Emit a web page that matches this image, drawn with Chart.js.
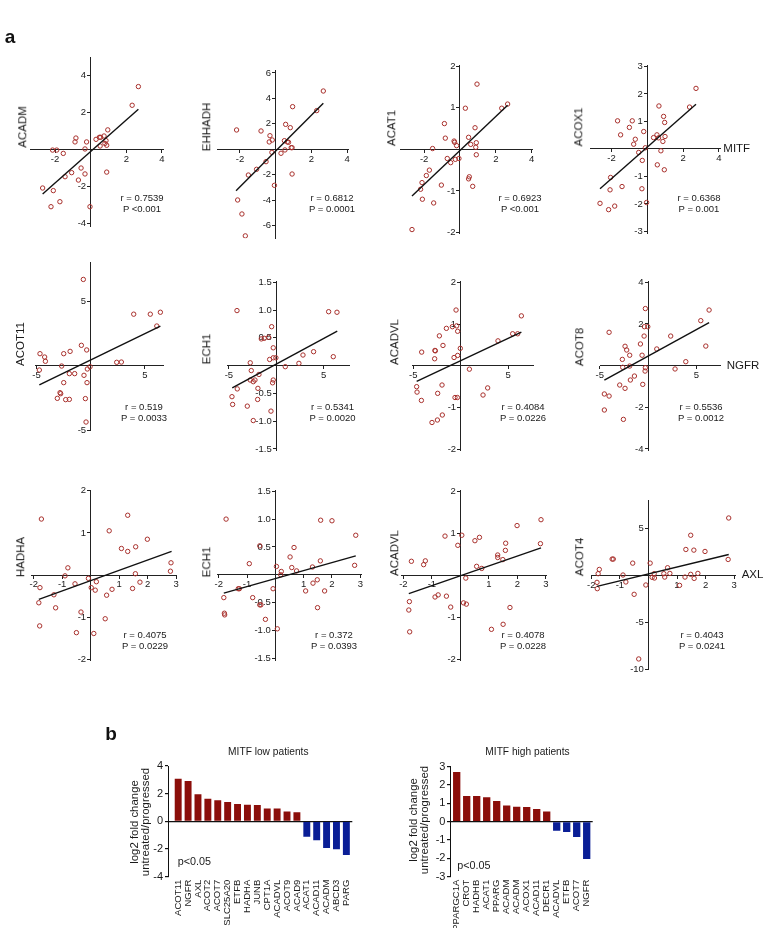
<!DOCTYPE html>
<html>
<head>
<meta charset="utf-8">
<script src="https://cdn.jsdelivr.net/npm/chart.js@4.4.1/dist/chart.umd.min.js"></script>
<style>
body { margin: 0; background: #fff; }
#fig { position: relative; width: 772px; height: 928px; overflow: hidden; font-family: "Liberation Sans", Arial, sans-serif; color: #1a1a1a; }
#fig canvas { position: absolute; }
.t { position: absolute; white-space: nowrap; line-height: 1; }
</style>
</head>
<body>
<div id="fig"></div>
<script>
const FONT = '"Liberation Sans", Arial, sans-serif';
const PT_COLOR = '#a8302c';
const RED = '#8b0e0a';
const BLUE = '#0a1e96';
// y labels of an axis placed at x = 0 are drawn flush with the line, so push them off it
const GAP = ' \u2009';

// ---- panel a: scatter data (x = MITF / NGFR / AXL, y = gene) ----
const acadmX = [2.68, 2.33, 0.96, -0.83, -0.88, -0.23, -0.32, 0.30, 0.49, 0.56, 0.75, 0.86, 0.90, 0.53, 0.80, -2.14, -1.91, -1.54, -0.54, -0.32, -1.07, -1.44, -0.69, -2.70, -2.10, -1.73, -2.23, -0.04, 0.90];
const acadmY = [3.39, 2.38, 1.05, 0.61, 0.40, 0.40, 0.02, 0.54, 0.65, 0.65, 0.72, 0.47, 0.22, 0.18, 0.32, -0.04, -0.04, -0.22, -1.01, -1.33, -1.26, -1.48, -1.66, -2.09, -2.23, -2.83, -3.10, -3.10, -1.23];
const acadmFitX = [-2.70, 2.68];
const acadmFitY = [-2.41, 2.16];

const ehhadhX = [2.67, 2.30, 0.95, 0.56, 0.82, -2.19, -0.82, -0.32, -0.19, -0.36, 0.49, 0.65, 0.72, 0.92, 0.87, -0.21, 0.30, 0.52, -0.54, -1.07, -1.53, 0.92, -0.07, -2.13, -1.89, -1.70];
const ehhadhY = [4.58, 3.04, 3.35, 1.96, 1.70, 1.52, 1.44, 1.07, 0.73, 0.58, 0.68, 0.58, 0.55, 0.13, 0.13, -0.24, -0.31, -0.05, -0.97, -1.57, -2.02, -1.94, -2.83, -3.98, -5.08, -6.80];
const ehhadhFitX = [-2.22, 2.67];
const ehhadhFitY = [-3.25, 3.61];

const acat1X = [0.95, 0.30, 2.33, 2.66, -0.87, 0.84, -0.82, -0.33, -0.30, 0.48, 0.91, 0.60, -0.19, 0.88, -1.53, 0.91, -0.71, -0.52, -0.26, -0.06, -1.71, -1.88, 0.52, 0.48, 0.71, -1.04, -2.12, -2.20, -2.10, -1.47, -2.68];
const acat1Y = [1.57, 0.99, 0.99, 1.09, 0.62, 0.52, 0.27, 0.20, 0.17, 0.29, 0.16, 0.12, 0.09, 0.05, 0.02, -0.13, -0.22, -0.32, -0.24, -0.22, -0.50, -0.63, -0.66, -0.71, -0.89, -0.86, -0.80, -0.96, -1.20, -1.29, -1.93];
const acat1FitX = [-2.68, 2.66];
const acat1FitY = [-1.12, 1.06];

const acox1X = [2.72, 2.36, 0.65, 0.91, 0.97, -1.66, -0.84, -1.00, -1.49, -0.20, -0.67, -0.76, 0.54, 0.35, 0.63, 0.99, 0.87, -0.11, -0.48, 0.76, -0.28, 0.56, 0.95, -2.05, -1.41, -2.08, -0.30, -0.04, -2.64, -1.82, -2.16];
const acox1Y = [2.20, 1.52, 1.56, 1.18, 0.96, 1.02, 1.02, 0.78, 0.51, 0.63, 0.35, 0.17, 0.51, 0.41, 0.40, 0.45, 0.27, 0.04, -0.13, -0.07, -0.42, -0.58, -0.76, -1.04, -1.37, -1.49, -1.45, -1.95, -1.98, -2.08, -2.21];
const acox1FitX = [-2.64, 2.72];
const acox1FitY = [-1.45, 1.62];

const acot11X = [-0.68, 3.97, 5.50, 6.43, 6.10, -0.86, -0.37, -1.90, -2.49, -4.68, -4.25, -4.18, 2.40, 2.83, -2.68, -0.06, -4.74, -0.31, -1.97, -1.48, -0.62, -2.49, -0.34, -2.83, -2.77, -3.08, -2.31, -1.97, -0.49, -0.43];
const acot11Y = [6.70, 4.00, 4.00, 4.15, 3.08, 1.58, 1.22, 1.11, 0.93, 0.93, 0.67, 0.34, 0.26, 0.28, -0.03, -0.08, -0.34, -0.26, -0.62, -0.62, -0.75, -1.32, -1.32, -2.10, -2.18, -2.54, -2.64, -2.62, -2.56, -4.38];
const acot11FitX = [-4.74, 6.43];
const acot11FitY = [-1.50, 3.08];

const ech1NgfrX = [-4.15, 5.53, 6.41, -0.49, -1.58, -1.27, -0.81, -0.32, 3.94, 2.82, 6.02, -0.70, -0.32, -0.04, 2.39, 0.95, -2.75, -2.64, -1.83, -2.75, -2.25, -2.43, -0.32, -0.39, -4.12, -1.94, -4.68, -1.97, -4.61, -3.06, -0.56, -2.43];
const ech1NgfrY = [0.99, 0.97, 0.96, 0.70, 0.48, 0.49, 0.51, 0.32, 0.25, 0.19, 0.16, 0.11, 0.14, 0.14, 0.04, -0.02, 0.05, -0.09, -0.16, -0.26, -0.26, -0.29, -0.26, -0.31, -0.42, -0.41, -0.56, -0.61, -0.70, -0.73, -0.82, -0.99];
const ech1NgfrFitX = [-4.65, 6.44];
const ech1NgfrFitY = [-0.40, 0.62];

const acadvlNgfrX = [-0.49, 6.41, -0.88, -0.42, -0.32, -1.51, -2.25, 5.49, 6.02, 3.94, -1.87, -2.68, -2.72, -2.75, -4.12, -0.04, -0.32, -0.70, 0.92, -1.97, 2.85, -4.65, -4.61, -2.43, 2.36, -0.60, -0.35, -4.15, -1.94, -2.46, -3.03];
const acadvlNgfrY = [1.34, 1.20, 0.94, 0.96, 0.83, 0.90, 0.72, 0.77, 0.77, 0.60, 0.49, 0.36, 0.37, 0.17, 0.33, 0.42, 0.25, 0.20, -0.08, -0.46, -0.53, -0.50, -0.63, -0.66, -0.70, -0.76, -0.76, -0.83, -1.18, -1.30, -1.36];
const acadvlNgfrFitX = [-4.65, 6.41];
const acadvlNgfrFitY = [-0.37, 0.81];

const acot8X = [-0.28, 6.31, 5.45, -0.38, -0.03, -0.41, 2.34, -4.03, -0.79, -2.38, -2.21, 0.90, 5.97, -1.90, -0.62, -2.66, 3.90, -2.62, -1.90, -0.28, -0.31, 2.79, -1.41, -1.83, -2.93, -2.38, -0.55, -4.52, -4.03, -4.52, -2.55];
const acot8Y = [2.74, 2.67, 2.16, 1.87, 1.87, 1.42, 1.42, 1.60, 1.04, 0.93, 0.75, 0.80, 0.94, 0.50, 0.50, 0.30, 0.19, -0.08, -0.02, -0.10, -0.26, -0.16, -0.50, -0.69, -0.93, -1.09, -0.90, -1.36, -1.46, -2.13, -2.58];
const acot8FitX = [-4.52, 6.31];
const acot8FitY = [-0.69, 2.06];

const hadhaX = [-1.73, 1.30, 0.65, 1.99, 1.08, 1.30, 1.58, -0.80, 2.82, 2.80, -0.90, -0.08, 1.57, -0.55, 0.20, 0.02, 0.16, 1.73, 0.75, 1.47, -1.78, -1.29, 0.56, -1.82, -1.23, -0.34, 0.51, -1.79, -0.50, 0.11];
const hadhaY = [1.33, 1.42, 1.05, 0.85, 0.63, 0.56, 0.67, 0.17, 0.29, 0.09, -0.02, -0.08, 0.03, -0.21, -0.16, -0.30, -0.36, -0.17, -0.34, -0.32, -0.30, -0.47, -0.48, -0.66, -0.78, -0.88, -1.04, -1.21, -1.37, -1.39];
const hadhaFitX = [-1.82, 2.84];
const hadhaFitY = [-0.58, 0.56];

const ech1AxlX = [-1.74, 1.60, 2.00, 2.84, -0.55, 0.66, 0.52, -0.92, 1.59, 0.04, 0.58, 1.31, 2.80, 0.21, 0.75, 0.19, -1.27, -1.31, -0.08, 1.07, 1.74, 1.33, 1.48, -1.82, -0.80, -0.51, -0.55, 1.49, -1.80, -1.79, -0.35, 0.07];
const ech1AxlY = [1.00, 0.98, 0.97, 0.71, 0.52, 0.49, 0.32, 0.20, 0.25, 0.15, 0.13, 0.14, 0.17, 0.06, 0.07, 0.00, -0.25, -0.25, -0.25, -0.29, -0.29, -0.15, -0.09, -0.41, -0.41, -0.54, -0.54, -0.59, -0.69, -0.72, -0.80, -0.97];
const ech1AxlFitX = [-1.82, 2.84];
const ech1AxlFitY = [-0.33, 0.34];

const acadvlAxlX = [2.83, 1.99, -0.54, 0.05, 0.67, 0.51, -0.09, 1.59, 2.81, 1.58, 1.31, 1.31, 1.49, -1.72, -1.23, -1.29, 0.57, 0.75, 0.19, -0.89, -0.78, -0.49, -1.79, -0.34, -1.81, 0.11, 0.21, 1.74, -1.78, 1.09, 1.50];
const acadvlAxlY = [1.32, 1.18, 0.93, 0.95, 0.90, 0.82, 0.71, 0.76, 0.75, 0.59, 0.48, 0.42, 0.37, 0.33, 0.34, 0.25, 0.21, 0.16, -0.07, -0.52, -0.47, -0.50, -0.63, -0.76, -0.83, -0.66, -0.69, -0.77, -1.35, -1.29, -1.17];
const acadvlAxlFitX = [-1.81, 2.83];
const acadvlAxlFitY = [-0.44, 0.65];

const acot4X = [2.81, 1.48, 1.31, 1.59, 1.98, 2.79, -1.27, -1.23, -0.55, 0.06, 0.67, -1.72, -1.76, -0.89, 0.54, 0.75, 0.20, 1.48, 1.73, 1.28, 1.60, 0.13, 0.21, 0.57, -1.80, -0.79, 1.09, -0.09, -1.79, -0.50, -0.34];
const acot4Y = [6.09, 4.26, 2.75, 2.68, 2.54, 1.69, 1.73, 1.73, 1.30, 1.30, 0.81, 0.63, 0.18, 0.04, 0.18, 0.21, 0.18, 0.11, 0.21, -0.18, -0.32, -0.21, -0.28, -0.18, -0.74, -0.70, -1.06, -1.02, -1.41, -2.01, -8.87];
const acot4FitX = [-1.80, 2.81];
const acot4FitY = [-1.16, 2.22];

const geneNames = ['ACADM', 'EHHADH', 'ACAT1', 'ACOX1', 'ACOT11', 'ECH1', 'ACADVL', 'ACOT8', 'HADHA', 'ECH1', 'ACADVL', 'ACOT4'];
const rText = ['r = 0.7539', 'r = 0.6812', 'r = 0.6923', 'r = 0.6368', 'r = 0.519', 'r = 0.5341', 'r = 0.4084', 'r = 0.5536', 'r = 0.4075', 'r = 0.372', 'r = 0.4078', 'r = 0.4043'];
const pText = ['P <0.001', 'P = 0.0001', 'P <0.001', 'P = 0.001', 'P = 0.0033', 'P = 0.0020', 'P = 0.0226', 'P = 0.0012', 'P = 0.0229', 'P = 0.0393', 'P = 0.0228', 'P = 0.0241'];

const xTicksMitf = ['-2', '2', '4'];
const xTicksNgfr = ['-5', '5'];
const xTicksAxl = ['-2', '-1', '1', '2', '3'];

// ---- panel b: bar data ----
const lowGenes = ['ACOT11', 'NGFR', 'AXL', 'ACOT2', 'ACOT7', 'SLC25A20', 'ETFB', 'HADHA', 'JUNB', 'CPT1A', 'ACADVL', 'ACOT9', 'ACAD9', 'ACAT1', 'ACAD11', 'ACADM', 'ABCD3', 'PARG'];
const lowFold = [3.08, 2.92, 1.95, 1.64, 1.52, 1.40, 1.25, 1.20, 1.18, 0.92, 0.92, 0.72, 0.65, -1.11, -1.37, -1.93, -2.02, -2.43];
const lowTicks = ['-4', '-2', '0', '2', '4'];

const highGenes = ['PPARGC1A', 'CROT', 'HADHB', 'ACAT1', 'PPARG', 'ACADM', 'ACADM', 'ACOX1', 'ACAD11', 'DECR1', 'ACADVL', 'ETFB', 'ACOT7', 'NGFR'];
const highFold = [2.71, 1.40, 1.40, 1.33, 1.13, 0.89, 0.82, 0.80, 0.69, 0.55, -0.49, -0.56, -0.84, -2.04];
const highTicks = ['-3', '-2', '-1', '0', '1', '2', '3'];

// layout: plot box [left, right, top, bottom] in page px, axis ranges, label spots
const scatterPanels = [
    { x: acadmX, y: acadmY, fx: acadmFitX, fy: acadmFitY, xt: xTicksMitf, yt: ['-4', '-2', '2', '4'],
      box: [30, 163.3, 57.7, 226.7], xr: [-3.41, 4.08], yr: [-4.18, 4.95], title: [22.7, 127.3], stat: [142, 197.5, 208.5] },
    { x: ehhadhX, y: ehhadhY, fx: ehhadhFitX, fy: ehhadhFitY, xt: xTicksMitf, yt: ['-6', '-4', '-2', '2', '4', '6'],
      box: [217.3, 348.3, 70, 238.3], xr: [-3.27, 4.07], yr: [-6.99, 6.23], title: [206.7, 126.7], stat: [332, 197.5, 208.5] },
    { x: acat1X, y: acat1Y, fx: acat1FitX, fy: acat1FitY, xt: xTicksMitf, yt: ['-2', '-1', '1', '2'],
      box: [400, 532.7, 65, 233.3], xr: [-3.35, 4.06], yr: [-2.02, 2.03], title: [391.7, 128.3], stat: [520, 197.5, 208.5] },
    { x: acox1X, y: acox1Y, fx: acox1FitX, fy: acox1FitY, xt: xTicksMitf, yt: ['-3', '-2', '-1', '1', '2', '3'],
      box: [590.7, 720, 65, 233.3], xr: [-3.16, 4.06], yr: [-3.07, 3.05], title: [579.3, 126.7], stat: [699, 197.5, 208.5] },
    { x: acot11X, y: acot11Y, fx: acot11FitX, fy: acot11FitY, xt: xTicksNgfr, yt: ['-5', '5'],
      box: [35, 163.3, 262.7, 430], xr: [-5.14, 6.7], yr: [-5.0, 8.0], title: [21, 344], stat: [144, 406.7, 418.3] },
    { x: ech1NgfrX, y: ech1NgfrY, fx: ech1NgfrFitX, fy: ech1NgfrFitY, xt: xTicksNgfr, yt: ['-1.5', '-1.0', '-0.5', '0.5', '1.0', '1.5'],
      box: [227.7, 349, 281.7, 450], xr: [-5.13, 7.68], yr: [-1.52, 1.51], title: [207.3, 349], stat: [332.5, 406.7, 418.3] },
    { x: acadvlNgfrX, y: acadvlNgfrY, fx: acadvlNgfrFitX, fy: acadvlNgfrFitY, xt: xTicksNgfr, yt: ['-2', '-1', '1', '2'],
      box: [412.3, 533.3, 281.7, 450], xr: [-5.11, 7.67], yr: [-2.02, 2.02], title: [395, 341.7], stat: [523, 406.7, 418.3] },
    { x: acot8X, y: acot8Y, fx: acot8FitX, fy: acot8FitY, xt: xTicksNgfr, yt: ['-4', '-2', '2', '4'],
      box: [600, 720.7, 281.7, 450], xr: [-4.97, 7.51], yr: [-4.05, 4.03], title: [580, 346.7], stat: [701, 406.7, 418.3] },
    { x: hadhaX, y: hadhaY, fx: hadhaFitX, fy: hadhaFitY, xt: xTicksAxl, yt: ['-2', '-1', '1', '2'],
      box: [31.7, 176.7, 490, 660], xr: [-2.07, 3.02], yr: [-2.02, 2.02], title: [21, 556.7], stat: [145, 635, 646] },
    { x: ech1AxlX, y: ech1AxlY, fx: ech1AxlFitX, fy: ech1AxlFitY, xt: xTicksAxl, yt: ['-1.5', '-1.0', '-0.5', '0.5', '1.0', '1.5'],
      box: [217.3, 361.7, 490.7, 660], xr: [-2.05, 3.05], yr: [-1.53, 1.51], title: [207.3, 561.7], stat: [334, 635, 646] },
    { x: acadvlAxlX, y: acadvlAxlY, fx: acadvlAxlFitX, fy: acadvlAxlFitY, xt: xTicksAxl, yt: ['-2', '-1', '1', '2'],
      box: [401.7, 546.7, 490.3, 660], xr: [-2.06, 3.03], yr: [-2.02, 2.02], title: [395, 553.3], stat: [523, 635, 646] },
    { x: acot4X, y: acot4Y, fx: acot4FitX, fy: acot4FitY, xt: xTicksAxl, yt: ['-10', '-5', '5'],
      box: [591, 735, 500, 669.6], xr: [-2.01, 3.03], yr: [-10, 8], title: [580, 556.7], stat: [702, 635, 646] }
];

const fig = document.getElementById('fig');

function addText(html, x, y, size, css) {
    const d = document.createElement('div');
    d.className = 't';
    d.innerHTML = html;
    d.style.left = x + 'px';
    d.style.top = y + 'px';
    d.style.fontSize = size + 'px';
    Object.assign(d.style, css || {});
    fig.appendChild(d);
    return d;
}

function makeCanvas(box, pad) {
    const [l, r, t, b] = box;
    const cl = Math.floor(l - pad[0]);
    const ct = Math.floor(t - pad[2]);
    const cw = Math.ceil(r + pad[1]) - cl;
    const ch = Math.ceil(b + pad[3]) - ct;
    const c = document.createElement('canvas');
    c.width = cw;
    c.height = ch;
    c.style.left = cl + 'px';
    c.style.top = ct + 'px';
    c.style.width = cw + 'px';
    c.style.height = ch + 'px';
    fig.appendChild(c);
    return { c, padding: { left: l - cl, right: cl + cw - r, top: t - ct, bottom: ct + ch - b } };
}

const baseOpts = {
    responsive: false,
    animation: false,
    devicePixelRatio: 1,
    events: [],
    plugins: { legend: { display: false }, tooltip: { enabled: false } }
};

function scatterPanel(p, i) {
    const { c, padding } = makeCanvas(p.box, [18, 18, 12, 18]);
    new Chart(c, {
        type: 'scatter',
        data: {
            datasets: [
                {
                    type: 'line',
                    data: p.fx.map((x, k) => ({ x, y: p.fy[k] })),
                    borderColor: '#111',
                    borderWidth: 1.4,
                    pointRadius: 0,
                    fill: false,
                    order: 0
                },
                {
                    data: p.x.map((x, k) => ({ x, y: p.y[k] })),
                    pointStyle: 'circle',
                    pointRadius: 2.2,
                    borderWidth: 1,
                    borderColor: PT_COLOR,
                    backgroundColor: 'rgba(0,0,0,0)',
                    order: 1
                }
            ]
        },
        options: {
            ...baseOpts,
            layout: { padding },
            scales: {
                x: {
                    type: 'linear', min: p.xr[0], max: p.xr[1],
                    position: { y: 0 },
                    border: { display: true, color: '#222', width: 1 },
                    grid: { display: true, drawOnChartArea: false, drawTicks: true, tickLength: 3, color: '#222' },
                    ticks: { font: { family: FONT, size: 9.5 }, color: '#1a1a1a', padding: 1, callback: (v, k) => p.xt[k] },
                    afterBuildTicks: a => { a.ticks = p.xt.map(s => ({ value: parseFloat(s) })); }
                },
                y: {
                    type: 'linear', min: p.yr[0], max: p.yr[1],
                    position: { x: 0 },
                    border: { display: true, color: '#222', width: 1 },
                    grid: { display: true, drawOnChartArea: false, drawTicks: true, tickLength: 3, color: '#222' },
                    ticks: { font: { family: FONT, size: 9.5 }, color: '#1a1a1a', callback: (v, k) => p.yt[k] + GAP },
                    afterBuildTicks: a => { a.ticks = p.yt.map(s => ({ value: parseFloat(s) })); }
                }
            }
        }
    });
    addText(geneNames[i], p.title[0], p.title[1], 11.5, { transform: 'translate(-50%,-50%) rotate(-90deg)' });
    addText(rText[i], p.stat[0], p.stat[1], 9.5, { transform: 'translate(-50%,-50%)' });
    addText(pText[i], p.stat[0], p.stat[2], 9.5, { transform: 'translate(-50%,-50%)' });
}

scatterPanels.forEach(scatterPanel);

addText('MITF', 723.3, 149.3, 11.5, { transform: 'translateY(-50%)' });
addText('NGFR', 726.7, 365.7, 11.5, { transform: 'translateY(-50%)' });
addText('AXL', 741.7, 575, 11.5, { transform: 'translateY(-50%)' });
addText('a', 10, 36, 19, { fontWeight: 'bold', transform: 'translate(-50%,-50%)', color: '#111' });

function barPanel(names, vals, ticks, box, xr, opts) {
    const { c, padding } = makeCanvas(box, [22, 10, 10, 62]);
    new Chart(c, {
        type: 'bar',
        data: {
            datasets: [{
                data: vals.map((v, k) => ({ x: k, y: v })),
                backgroundColor: vals.map(v => v > 0 ? RED : BLUE),
                borderWidth: 0,
                barPercentage: opts.barPct,
                categoryPercentage: 1
            }]
        },
        options: {
            ...baseOpts,
            layout: { padding },
            scales: {
                x: {
                    type: 'linear', min: xr[0], max: xr[1], offset: false,
                    position: { y: parseFloat(ticks[0]) },
                    border: { display: false },
                    grid: { display: false, drawTicks: false },
                    ticks: {
                        autoSkip: false, maxRotation: 90, minRotation: 90, padding: 3,
                        font: { family: FONT, size: 9.5 }, color: '#1a1a1a',
                        callback: (v, k) => names[k]
                    },
                    afterBuildTicks: a => { a.ticks = names.map((n, k) => ({ value: k })); }
                },
                y: {
                    type: 'linear', min: parseFloat(ticks[0]), max: parseFloat(ticks[ticks.length - 1]),
                    position: { x: xr[0] },
                    border: { display: true, color: '#111', width: 1 },
                    grid: {
                        display: true, drawOnChartArea: true, drawTicks: true, tickLength: 3,
                        color: ctx => (ctx.tick && ctx.tick.value === 0) ? '#111' : 'rgba(0,0,0,0)',
                        tickColor: '#111', lineWidth: 1.2
                    },
                    ticks: { font: { family: FONT, size: 11 }, color: '#1a1a1a', callback: (v, k) => ticks[k] + GAP },
                    afterBuildTicks: a => { a.ticks = ticks.map(s => ({ value: parseFloat(s) })); }
                }
            }
        }
    });
}

barPanel(lowGenes, lowFold, lowTicks, [168.3, 352.3, 766, 876.7], [-1, 17.6], { barPct: 0.7 });
barPanel(highGenes, highFold, highTicks, [450.7, 592.7, 766.7, 876.7], [-0.6, 13.6], { barPct: 0.73 });

addText('b', 111, 733, 19, { fontWeight: 'bold', transform: 'translate(-50%,-50%)', color: '#111' });
addText('MITF low patients', 268.3, 751.7, 10.2, { transform: 'translate(-50%,-50%)' });
addText('MITF high patients', 527.5, 751.7, 10.2, { transform: 'translate(-50%,-50%)' });
addText('log2 fold change<br>untreated/progressed', 140, 822, 11.4, { textAlign: 'center', transform: 'translate(-50%,-50%) rotate(-90deg)' });
addText('log2 fold change<br>untreated/progressed', 419, 820, 11.4, { textAlign: 'center', transform: 'translate(-50%,-50%) rotate(-90deg)' });
addText('p&lt;0.05', 177.7, 861, 10.8, { transform: 'translateY(-50%)' });
addText('p&lt;0.05', 457.3, 865.3, 10.8, { transform: 'translateY(-50%)' });
</script>
</body>
</html>
